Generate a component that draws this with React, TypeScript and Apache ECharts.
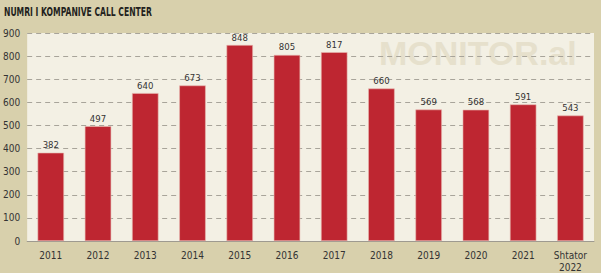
import React, { useEffect, useRef } from "react";
import * as echarts from "echarts";

const categories = ["2011", "2012", "2013", "2014", "2015", "2016", "2017", "2018", "2019", "2020", "2021", "Shtator\n2022"];
const values = [382, 497, 640, 673, 848, 805, 817, 660, 569, 568, 591, 543];
const yTicks = [0, 100, 200, 300, 400, 500, 600, 700, 800, 900];
const title = "NUMRI I KOMPANIVE CALL CENTER";
const watermark = "MONITOR.al";

const FONT = "'DejaVu Sans Condensed', sans-serif";

export default function App() {
  const ref = useRef<HTMLDivElement>(null);
  useEffect(() => {
    if (!ref.current) return;
    const chart = echarts.init(ref.current, null, { renderer: "svg" });
    chart.setOption({
      animation: false,
      backgroundColor: "#D8D0AC",
      graphic: [
        {
          type: "text",
          x: 4,
          y: 5,
          scaleX: 0.68,
          scaleY: 1,
          z: 10,
          style: {
            text: title,
            font: "bold 12.5px 'DejaVu Sans Condensed', sans-serif",
            fill: "#231F20",
          },
        },
        {
          type: "text",
          left: 379,
          top: 36,
          z: 0,
          style: {
            text: watermark,
            font: "bold 34px 'Liberation Sans', Arial, sans-serif",
            fill: "#E6E0CC",
          },
        },
      ],
      grid: {
        left: 26,
        right: 7,
        top: 33,
        bottom: 30,
        show: true,
        backgroundColor: "#F3F0E4",
        borderWidth: 0,
      },
      xAxis: {
        type: "category",
        data: categories,
        axisTick: { show: false },
        axisLine: { lineStyle: { color: "#9E9A90", width: 1 } },
        axisLabel: { fontFamily: FONT, fontSize: 10, color: "#333", margin: 8, lineHeight: 12 },
      },
      yAxis: {
        type: "value",
        min: yTicks[0],
        max: yTicks[yTicks.length - 1],
        interval: 100,
        axisLine: { show: false },
        axisTick: { show: false },
        axisLabel: { fontFamily: FONT, fontSize: 10, color: "#333", margin: 7 },
        splitLine: { lineStyle: { color: "#A8A49A", type: [5, 4], width: 1 } },
      },
      series: [
        {
          type: "bar",
          data: values,
          barWidth: "56%",
          z: 3,
          itemStyle: { color: "#BE2631", borderColor: "#E8B8B0", borderWidth: 0.6 },
          label: {
            show: true,
            position: "top",
            distance: 3,
            fontFamily: FONT,
            fontSize: 9.5,
            color: "#333",
          },
        },
      ],
    });
    return () => chart.dispose();
  }, []);
  return <div ref={ref} style={{ width: 601, height: 273, position: "absolute", left: 0, top: 0 }} />;
}
